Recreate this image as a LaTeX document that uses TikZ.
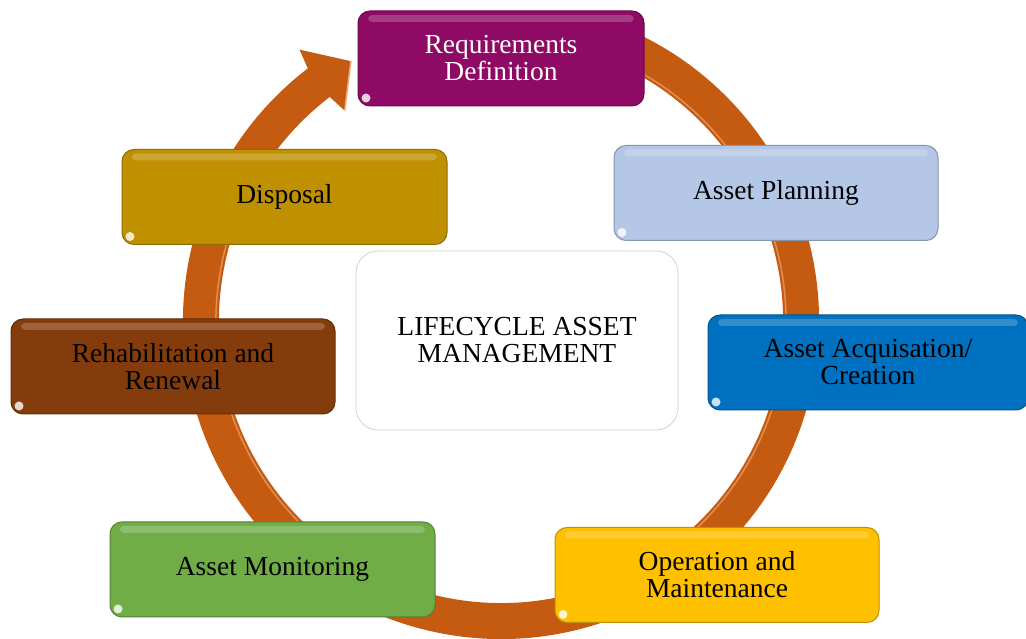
\documentclass[tikz,border=0pt]{standalone}
\usepackage{fontspec}
\setmainfont{Liberation Serif}
\usepackage{tikz}
\definecolor{ringc}{RGB}{197,90,17}
\definecolor{ringlt}{RGB}{244,177,131}
\definecolor{reqc}{RGB}{142,10,100}
\definecolor{planc}{RGB}{180,199,231}
\definecolor{acqc}{RGB}{0,112,192}
\definecolor{omc}{RGB}{255,192,0}
\definecolor{monc}{RGB}{112,173,71}
\definecolor{rehabc}{RGB}{132,60,12}
\definecolor{dispc}{RGB}{191,144,0}

\begin{document}
\begin{tikzpicture}[x=1pt,y=1pt,
	phase/.style={draw=#1!75!black, fill=#1, line width=1pt, rounded corners=12pt,
		minimum width=324pt, minimum height=95pt, align=center,
		font=\fontsize{27.5}{27}\selectfont,
		path picture={
			\fill[white,opacity=0.2,rounded corners=4pt]
				([xshift=10pt,yshift=-4pt]path picture bounding box.north west) rectangle
				([xshift=-10pt,yshift=-11pt]path picture bounding box.north east);
			\fill[white,opacity=0.8]
				([xshift=8pt,yshift=8pt]path picture bounding box.south west) circle (4.5pt);
		}},
	hub/.style={draw=black!18, fill=white, rounded corners=22pt, line width=0.8pt,
		minimum width=322pt, minimum height=179pt, align=center,
		font=\fontsize{27.5}{27}\selectfont}]
	\useasboundingbox (0,0) rectangle (1026,639);
	\coordinate (o) at (501,318);

	% the cycle arrow
	\begin{scope}[shift={(o)}]
		\draw[ringc, line width=36pt] (75:300) arc[start angle=75, end angle=-234, radius=300];
		\draw[ringlt, line width=1.5pt, opacity=0.6] (60:285) arc[start angle=60, end angle=-60, radius=285];
		\draw[ringlt, line width=1.5pt, opacity=0.6] (-110:285) arc[start angle=-110, end angle=-200, radius=285];
		\fill[ringc] (126.6:338) -- (120:300) -- (126.6:262) -- (127.4:282) -- (127.4:318) -- cycle;
		\draw[ringlt, line width=1.5pt] (126.6:262) -- (120:300);
	\end{scope}

	% phases
	\node[phase=reqc, text=white, minimum width=286pt] (req) at (501,580.5) {Requirements\\Definition};
	\node[phase=planc] (plan) at (776,446) {Asset Planning};
	\node[phase=acqc, minimum width=320pt] (acq) at (868,276.5) {Asset Acquisation/\\Creation};
	\node[phase=omc] (om) at (717,64) {Operation and\\Maintenance};
	\node[phase=monc, minimum width=325pt] (mon) at (272.5,69.5) {Asset Monitoring};
	\node[phase=rehabc] (rehab) at (173,272.5) {Rehabilitation and\\Renewal};
	\node[phase=dispc, minimum width=325pt] (disp) at (284.5,442) {Disposal};

	\node[hub] (lam) at (517,298.5) {LIFECYCLE ASSET\\MANAGEMENT};
\end{tikzpicture}
\end{document}
